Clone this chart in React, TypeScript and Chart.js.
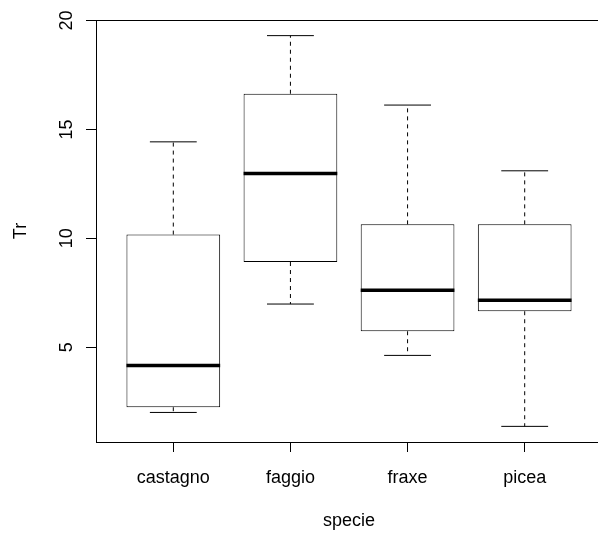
import React, { useEffect, useRef } from "react";
import { Chart, registerables } from "chart.js";

Chart.register(...registerables);

const categories = ["castagno", "faggio", "fraxe", "picea"];
const whiskerLow = [2.0, 6.98, 4.62, 1.36];
const q1 = [2.24, 8.91, 5.73, 6.65];
const median = [4.16, 12.98, 7.61, 7.15];
const q3 = [10.17, 16.64, 10.64, 10.64];
const whiskerHigh = [14.43, 19.31, 16.12, 13.1];
const yTicks = [5, 10, 15, 20];
const xTitle = "specie";
const yTitle = "Tr";

const FONT = "'Liberation Sans', Arial, sans-serif";

const framePlugin = {
  id: "frame",
  afterDraw(chart: any) {
    const { ctx, chartArea } = chart;
    ctx.save();
    ctx.strokeStyle = "#000";
    ctx.lineWidth = 1;
    ctx.strokeRect(
      Math.round(chartArea.left) + 0.5,
      Math.round(chartArea.top) + 0.5,
      Math.round(chartArea.right - chartArea.left),
      Math.round(chartArea.bottom - chartArea.top)
    );
    ctx.restore();
  },
};

export default function App() {
  const ref = useRef<HTMLCanvasElement | null>(null);

  useEffect(() => {
    if (!ref.current) return;
    const n = categories.length;
    const lo = Math.min(...whiskerLow);
    const hi = Math.max(...whiskerHigh);
    const yPad = (hi - lo) * 0.04;
    const xPad = n * 0.04;

    const lineBase = {
      type: "line" as const,
      borderColor: "#000",
      borderWidth: 1,
      pointRadius: 0,
      pointHoverRadius: 0,
      fill: false,
      tension: 0,
      order: 1,
    };

    const datasets: any[] = [
      {
        type: "bar",
        data: categories.map((_, i) => ({ x: i + 1, y: [q1[i], q3[i]] })),
        backgroundColor: "#fff",
        borderColor: "#000",
        borderWidth: 1,
        borderSkipped: false,
        barPercentage: 0.8,
        categoryPercentage: 1,
        order: 2,
      },
    ];
    categories.forEach((_, i) => {
      const x = i + 1;
      datasets.push({
        ...lineBase,
        borderDash: [4, 4],
        data: [
          { x, y: q3[i] },
          { x, y: whiskerHigh[i] },
        ],
      });
      datasets.push({
        ...lineBase,
        borderDash: [4, 4],
        data: [
          { x, y: q1[i] },
          { x, y: whiskerLow[i] },
        ],
      });
      datasets.push({
        ...lineBase,
        data: [
          { x: x - 0.2, y: whiskerHigh[i] },
          { x: x + 0.2, y: whiskerHigh[i] },
        ],
      });
      datasets.push({
        ...lineBase,
        data: [
          { x: x - 0.2, y: whiskerLow[i] },
          { x: x + 0.2, y: whiskerLow[i] },
        ],
      });
      datasets.push({
        ...lineBase,
        borderWidth: 3.5,
        data: [
          { x: x - 0.4, y: median[i] },
          { x: x + 0.4, y: median[i] },
        ],
      });
    });

    const chart = new Chart(ref.current, {
      type: "bar",
      data: { datasets },
      plugins: [framePlugin],
      options: {
        animation: false,
        responsive: false,
        devicePixelRatio: 1,
        events: [],
        layout: { padding: { left: 0, top: 20, right: 18, bottom: 0 } },
        plugins: {
          legend: { display: false },
          tooltip: { enabled: false },
        },
        scales: {
          x: {
            type: "linear",
            offset: false,
            min: 0.5 - xPad,
            max: n + 0.5 + xPad,
            afterBuildTicks: (scale: any) => {
              scale.ticks = categories.map((_, i) => ({ value: i + 1 }));
            },
            afterFit: (scale: any) => {
              scale.height = 95;
            },
            grid: {
              display: true,
              drawOnChartArea: false,
              drawTicks: true,
              tickLength: 10,
              tickColor: "#000",
              offset: false,
            },
            border: { display: true, color: "#000" },
            ticks: {
              autoSkip: false,
              maxRotation: 0,
              minRotation: 0,
              padding: 17,
              color: "#000",
              font: { family: FONT, size: 18, lineHeight: 1 },
              callback: (v: any) => categories[Math.round(Number(v)) - 1] ?? "",
            },
            title: {
              display: true,
              text: xTitle,
              color: "#000",
              font: { family: FONT, size: 18, lineHeight: 1 },
              padding: { top: 0, bottom: 7 },
            },
          },
          y: {
            type: "linear",
            min: lo - yPad,
            max: hi + yPad,
            afterBuildTicks: (scale: any) => {
              scale.ticks = yTicks.map((v) => ({ value: v }));
            },
            afterFit: (scale: any) => {
              scale.width = 96;
            },
            grid: {
              display: true,
              drawOnChartArea: false,
              drawTicks: true,
              tickLength: 10,
              tickColor: "#000",
            },
            border: { display: true, color: "#000" },
            ticks: {
              autoSkip: false,
              minRotation: 90,
              maxRotation: 90,
              crossAlign: "center",
              padding: 9,
              color: "#000",
              font: { family: FONT, size: 18, lineHeight: 1 },
              callback: (v: any) => String(v),
            },
            title: {
              display: true,
              text: yTitle,
              color: "#000",
              font: { family: FONT, size: 18, lineHeight: 1 },
              padding: { top: 12, bottom: 0 },
            },
          },
        },
      } as any,
    });
    return () => chart.destroy();
  }, []);

  return (
    <div
      style={{
        position: "fixed",
        left: 0,
        top: 0,
        width: 598,
        height: 537,
        overflow: "hidden",
        background: "#fff",
      }}
    >
      <canvas ref={ref} width={620} height={537} style={{ display: "block" }} />
    </div>
  );
}
